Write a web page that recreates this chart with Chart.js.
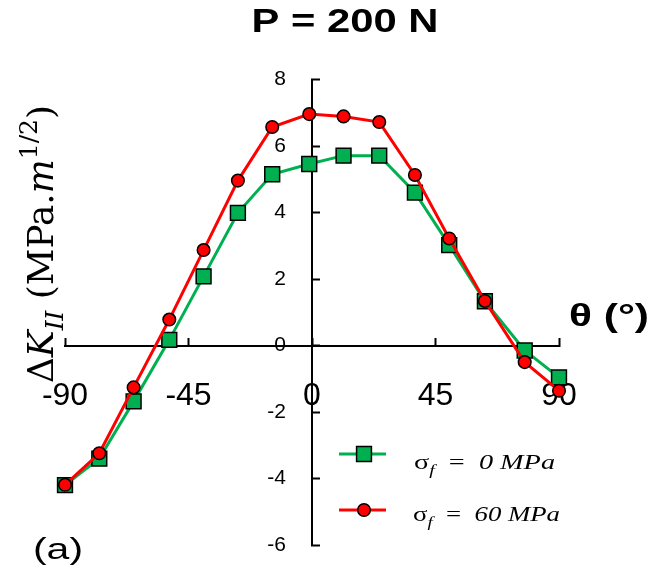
<!DOCTYPE html>
<html>
<head>
<meta charset="utf-8">
<script src="https://cdn.jsdelivr.net/npm/chart.js@4/dist/chart.umd.min.js"></script>
<style>
  body { margin: 0; background: #fff; }
  #wrap { width: 648px; height: 586px; }
</style>
</head>
<body>
<div id="wrap"><canvas id="myChart" width="648" height="586"></canvas></div>
<script>
// crack angle theta (deg) and mode II SIF range
const angles = [-90, -77.5, -65, -52, -39.5, -27, -14.5, -1, 11.5, 24.5, 37.5, 50, 63, 77.5, 90];
const kII_0MPa = [-4.2, -3.4, -1.68, 0.17, 2.08, 3.99, 5.15, 5.46, 5.71, 5.71, 4.6, 3.02, 1.33, -0.15, -0.96];
const kII_60MPa = [-4.19, -3.24, -1.26, 0.78, 2.87, 4.96, 6.57, 6.96, 6.89, 6.72, 5.13, 3.22, 1.34, -0.5, -1.36];
const xTicks = [-90, -45, 0, 45, 90];
const yTicks = [-6, -4, -2, 0, 2, 4, 6, 8];

const SANS = '"Liberation Sans", Arial, sans-serif';
const SERIF = '"DejaVu Serif", "Liberation Serif", serif';
const SERIF2 = '"Liberation Serif", serif';

// draws a run of text pieces fitted to a width and cap height, centred on cx, cy
function drawRich(ctx, parts, o) {
    const F = o.size;
    const fontFor = p => (p.it ? 'italic ' : '') + (o.weight || 'normal') + ' ' +
        ((p.sub || p.sup) ? F * 0.7 : F) + 'px ' + o.family;
    ctx.save();
    let W = 0;
    parts.forEach(p => { ctx.font = fontFor(p); p.w = ctx.measureText(p.t).width; W += p.w; });
    ctx.font = fontFor({});
    const capH = ctx.measureText('H').actualBoundingBoxAscent;
    ctx.translate(o.cx, o.cy);
    if (o.rot) ctx.rotate(o.rot);
    ctx.scale(o.w / W, o.cap / capH);
    ctx.fillStyle = '#000';
    ctx.textAlign = 'left';
    ctx.textBaseline = 'alphabetic';
    let x = -W / 2;
    parts.forEach(p => {
        ctx.font = fontFor(p);
        const dy = p.sub ? F * 0.28 : p.sup ? -F * 0.45 : 0;
        ctx.fillText(p.t, x, capH / 2 + dy);
        x += p.w;
    });
    ctx.restore();
}

const annotations = {
    id: 'annotations',
    afterDraw(chart) {
        const ctx = chart.ctx;
        drawRich(ctx, [{t: 'P = 200 N'}], {cx: 345, cy: 20, w: 187, cap: 23.4, size: 32, family: SANS, weight: 'bold'});
        drawRich(ctx, [{t: 'θ (°)'}], {cx: 609, cy: 315, w: 80, cap: 22, size: 32, family: SANS, weight: 'bold'});
        drawRich(ctx, [{t: '(a)'}], {cx: 58, cy: 548.5, w: 50, cap: 20.5, size: 29, family: SANS});
        drawRich(ctx, [
            {t: 'Δ'}, {t: 'K', it: true}, {t: 'II', it: true, sub: true},
            {t: ' (MPa.'}, {t: 'm', it: true}, {t: '1/2', sup: true}, {t: ')'}
        ], {cx: 40, cy: 244, w: 278, cap: 26, size: 30, family: SERIF, rot: -Math.PI / 2});

        // legend
        const rows = [
            {ds: chart.data.datasets[0], y: 454, ty: 462, x0: 414, x1: 555,
             txt: [{t: 'σ'}, {t: 'f', it: true, sub: true}, {t: '  =  '}, {t: '0 MPa', it: true}]},
            {ds: chart.data.datasets[1], y: 510, ty: 514, x0: 413, x1: 560,
             txt: [{t: 'σ'}, {t: 'f', it: true, sub: true}, {t: '  =  '}, {t: '60 MPa', it: true}]}
        ];
        rows.forEach(r => {
            ctx.save();
            ctx.strokeStyle = r.ds.borderColor;
            ctx.lineWidth = r.ds.borderWidth;
            ctx.beginPath();
            ctx.moveTo(339, r.y);
            ctx.lineTo(386, r.y);
            ctx.stroke();
            ctx.fillStyle = r.ds.pointBackgroundColor;
            ctx.strokeStyle = r.ds.pointBorderColor;
            ctx.lineWidth = r.ds.pointBorderWidth;
            ctx.beginPath();
            if (r.ds.pointStyle === 'rect') {
                const s = r.ds.pointRadius * Math.SQRT1_2;
                ctx.rect(364 - s, r.y - s, 2 * s, 2 * s);
            } else {
                ctx.arc(364, r.y, r.ds.pointRadius, 0, Math.PI * 2);
            }
            ctx.fill();
            ctx.stroke();
            ctx.restore();
            drawRich(ctx, r.txt, {cx: (r.x0 + r.x1) / 2, cy: r.ty, w: r.x1 - r.x0, cap: 14.5, size: 20, family: SERIF2});
        });
    }
};

const ctx = document.getElementById('myChart').getContext('2d');
new Chart(ctx, {
    type: 'line',
    data: {
        datasets: [{
            label: 'σf = 0 MPa',
            data: angles.map((a, i) => ({x: a, y: kII_0MPa[i]})),
            borderColor: '#00B050',
            borderWidth: 3,
            pointStyle: 'rect',
            pointRadius: 10.5,
            pointBackgroundColor: '#00B050',
            pointBorderColor: '#000',
            pointBorderWidth: 1.5,
            tension: 0,
            clip: false,
            order: 1
        }, {
            label: 'σf = 60 MPa',
            data: angles.map((a, i) => ({x: a, y: kII_60MPa[i]})),
            borderColor: '#FF0000',
            borderWidth: 3,
            pointStyle: 'circle',
            pointRadius: 6.3,
            pointBackgroundColor: '#FF0000',
            pointBorderColor: '#000',
            pointBorderWidth: 1.5,
            tension: 0,
            clip: false,
            order: 0
        }]
    },
    options: {
        responsive: false,
        animation: false,
        layout: { padding: { left: 65, right: 89, top: 79.5, bottom: 41 } },
        plugins: { legend: { display: false }, tooltip: { enabled: false }, title: { display: false } },
        scales: {
            x: {
                type: 'linear',
                min: -90,
                max: 90,
                position: { y: 0 },
                afterBuildTicks: scale => { scale.ticks = xTicks.map(v => ({value: v})); },
                afterFit: scale => { scale.height = 0; },
                ticks: { color: '#000', font: { family: SANS, size: 32 }, padding: 40, autoSkip: false, maxRotation: 0 },
                grid: { drawOnChartArea: false, drawTicks: true, tickLength: -9, tickWidth: 2, tickColor: '#000' },
                border: { display: true, color: '#000', width: 2 }
            },
            y: {
                type: 'linear',
                min: -6,
                max: 8,
                position: 'center',
                afterBuildTicks: scale => { scale.ticks = yTicks.map(v => ({value: v})); },
                // axis sits in the middle, so it should not push the plot area in
                afterFit: scale => { scale.width = 0; scale.paddingTop = 0; scale.paddingBottom = 0; },
                ticks: { color: '#000', font: { family: SANS, size: 21 }, padding: 35, autoSkip: false },
                grid: { drawOnChartArea: false, drawTicks: true, tickLength: -9, tickWidth: 2, tickColor: '#000' },
                border: { display: true, color: '#000', width: 2 }
            }
        }
    },
    plugins: [annotations]
});
</script>
</body>
</html>
